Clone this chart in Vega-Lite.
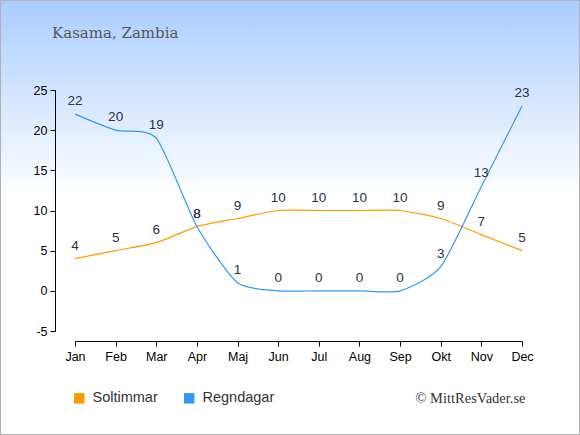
{
  "$schema": "https://vega.github.io/schema/vega-lite/v6.json",
  "width": 580,
  "height": 435,
  "autosize": "none",
  "padding": 0,
  "background": "#ffffff",
  "title": {
    "text": "Kasama, Zambia",
    "anchor": "start",
    "frame": "group",
    "orient": "top",
    "offset": 0,
    "dx": 52,
    "dy": 54,
    "baseline": "alphabetic",
    "font": "DejaVu Serif",
    "fontSize": 15,
    "fontWeight": "normal",
    "color": "#555555"
  },
  "datasets": {
    "climate": [
      {"month": "Jan", "series": "Soltimmar", "value": 4},
      {"month": "Feb", "series": "Soltimmar", "value": 5},
      {"month": "Mar", "series": "Soltimmar", "value": 6},
      {"month": "Apr", "series": "Soltimmar", "value": 8},
      {"month": "Maj", "series": "Soltimmar", "value": 9},
      {"month": "Jun", "series": "Soltimmar", "value": 10},
      {"month": "Jul", "series": "Soltimmar", "value": 10},
      {"month": "Aug", "series": "Soltimmar", "value": 10},
      {"month": "Sep", "series": "Soltimmar", "value": 10},
      {"month": "Okt", "series": "Soltimmar", "value": 9},
      {"month": "Nov", "series": "Soltimmar", "value": 7},
      {"month": "Dec", "series": "Soltimmar", "value": 5},
      {"month": "Jan", "series": "Regndagar", "value": 22},
      {"month": "Feb", "series": "Regndagar", "value": 20},
      {"month": "Mar", "series": "Regndagar", "value": 19},
      {"month": "Apr", "series": "Regndagar", "value": 8},
      {"month": "Maj", "series": "Regndagar", "value": 1},
      {"month": "Jun", "series": "Regndagar", "value": 0},
      {"month": "Jul", "series": "Regndagar", "value": 0},
      {"month": "Aug", "series": "Regndagar", "value": 0},
      {"month": "Sep", "series": "Regndagar", "value": 0},
      {"month": "Okt", "series": "Regndagar", "value": 3},
      {"month": "Nov", "series": "Regndagar", "value": 13},
      {"month": "Dec", "series": "Regndagar", "value": 23}
    ]
  },
  "layer": [
    {
      "data": {"values": [{"bg": 1}]},
      "mark": {
        "type": "rect",
        "stroke": "#b0b0b0",
        "strokeWidth": 2,
        "color": {
          "gradient": "linear",
          "x1": 0, "y1": 0, "x2": 0, "y2": 1,
          "stops": [
            {"offset": 0, "color": "#aaccff"},
            {"offset": 0.45, "color": "#ffffff"},
            {"offset": 1, "color": "#ffffff"}
          ]
        }
      },
      "encoding": {}
    },
    {
      "data": {"name": "climate"},
      "mark": {"type": "line", "interpolate": "cardinal", "tension": 0.35, "strokeWidth": 1.2},
      "encoding": {
        "x": {
          "field": "month",
          "type": "ordinal",
          "sort": ["Jan", "Feb", "Mar", "Apr", "Maj", "Jun", "Jul", "Aug", "Sep", "Okt", "Nov", "Dec"],
          "scale": {"type": "point", "range": [75, 522], "padding": 0},
          "axis": {
            "orient": "bottom",
            "offset": -94,
            "zindex": 1,
            "domainColor": "#000000",
            "tickColor": "#000000",
            "tickSize": 5,
            "labelAngle": 0,
            "labelFont": "Liberation Sans",
            "labelFontSize": 12.5,
            "labelColor": "#000000",
            "labelPadding": 4,
            "title": "© MittResVader.se",
            "titleFont": "Liberation Serif",
            "titleFontSize": 14.5,
            "titleFontWeight": "normal",
            "titleColor": "#333333",
            "titleAnchor": null,
            "titleAlign": "right",
            "titleBaseline": "middle",
            "titleX": 525,
            "titleY": 57
          }
        },
        "y": {
          "field": "value",
          "type": "quantitative",
          "scale": {"domain": [-5, 25], "range": [331, 90], "nice": false, "zero": false},
          "axis": {
            "orient": "left",
            "offset": -55,
            "zindex": 1,
            "values": [-5, 0, 5, 10, 15, 20, 25],
            "labelExpr": "replace(datum.label, '\u2212', '-')",
            "grid": false,
            "domainColor": "#000000",
            "tickColor": "#000000",
            "tickSize": 5,
            "labelFont": "Liberation Sans",
            "labelFontSize": 12.5,
            "labelColor": "#000000",
            "labelPadding": 3,
            "title": null
          }
        },
        "color": {
          "field": "series",
          "type": "nominal",
          "scale": {"domain": ["Soltimmar", "Regndagar"], "range": ["#ff9900", "#3399ee"]},
          "legend": {
            "orient": "none",
            "legendX": 72,
            "legendY": 391,
            "zindex": 1,
            "direction": "horizontal",
            "title": null,
            "symbolType": "square",
            "symbolSize": 110,
            "symbolStrokeWidth": 0,
            "symbolOpacity": 1,
            "labelFont": "Liberation Sans",
            "labelFontSize": 14.5,
            "labelColor": "#333333",
            "labelOffset": 6,
            "columnPadding": 24,
            "encode": {
              "symbols": {
                "update": {
                  "fill": {"scale": "color", "field": "value"},
                  "fillOpacity": {"value": 1}
                }
              }
            }
          }
        }
      }
    },
    {
      "data": {"name": "climate"},
      "mark": {"type": "text", "dy": -13, "font": "Liberation Sans", "fontSize": 13.5, "color": "#2a3245"},
      "encoding": {
        "x": {
          "field": "month",
          "type": "ordinal",
          "sort": ["Jan", "Feb", "Mar", "Apr", "Maj", "Jun", "Jul", "Aug", "Sep", "Okt", "Nov", "Dec"]
        },
        "y": {"field": "value", "type": "quantitative"},
        "text": {"field": "value", "type": "quantitative"}
      }
    }
  ]
}
